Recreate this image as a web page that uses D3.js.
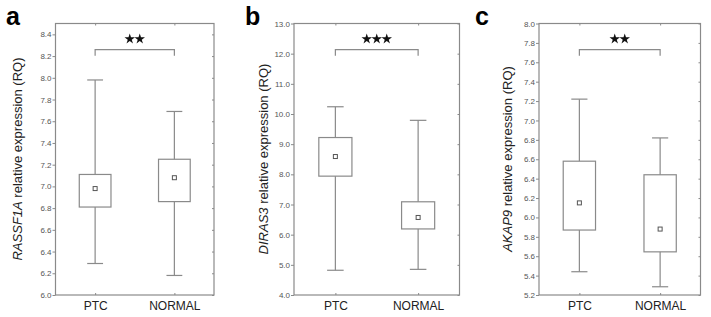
<!DOCTYPE html>
<html>
<head>
<meta charset="utf-8">
<script src="https://cdn.jsdelivr.net/npm/d3@7"></script>
<style>
  body { margin: 0; background: #fff; }
  text { font-family: "Liberation Sans", Arial, sans-serif; }
</style>
</head>
<body>
<div id="chart"></div>
<script>
// Groups on the x axis
const groups = ['PTC', 'NORMAL'];

// Box stats: low whisker, q1, mean, q3, high whisker
const rassf1aStats = [
    { group: 'PTC', low: 6.29, q1: 6.81, mean: 6.98, q3: 7.11, high: 7.98 },
    { group: 'NORMAL', low: 6.18, q1: 6.86, mean: 7.08, q3: 7.25, high: 7.69 }
];
const diras3Stats = [
    { group: 'PTC', low: 4.82, q1: 7.94, mean: 8.59, q3: 9.22, high: 10.24 },
    { group: 'NORMAL', low: 4.85, q1: 6.19, mean: 6.57, q3: 7.09, high: 9.79 }
];
const akap9Stats = [
    { group: 'PTC', low: 5.44, q1: 5.87, mean: 6.15, q3: 6.58, high: 7.22 },
    { group: 'NORMAL', low: 5.285, q1: 5.645, mean: 5.88, q3: 6.44, high: 6.82 }
];

// Y axis ranges and tick labels
const rassf1aDomain = [6.0, 8.5];
const diras3Domain = [4.0, 13.0];
const akap9Domain = [5.2, 8.0];
const rassf1aTicks = [6.0, 6.2, 6.4, 6.6, 6.8, 7.0, 7.2, 7.4, 7.6, 7.8, 8.0, 8.2, 8.4];
const diras3Ticks = [4.0, 5.0, 6.0, 7.0, 8.0, 9.0, 10.0, 11.0, 12.0, 13.0];
const akap9Ticks = [5.2, 5.4, 5.6, 5.8, 6.0, 6.2, 6.4, 6.6, 6.8, 7.0, 7.2, 7.4, 7.6, 7.8, 8.0];

// Significance stars per panel
const stars = [2, 3, 2];

const svg = d3.select('#chart')
    .append('svg')
    .attr('width', 711)
    .attr('height', 317);

const plotTop = 23.5, plotBottom = 295;
const grey = '#8a8a8a';

const panels = [
    { letter: 'a', gene: 'RASSF1A', stats: rassf1aStats, domain: rassf1aDomain, ticks: rassf1aTicks,
      left: 55.5, right: 214, titleX: 22, letterX: 6, stars: stars[0] },
    { letter: 'b', gene: 'DIRAS3', stats: diras3Stats, domain: diras3Domain, ticks: diras3Ticks,
      left: 294, right: 459.5, titleX: 268, letterX: 245, stars: stars[1] },
    { letter: 'c', gene: 'AKAP9', stats: akap9Stats, domain: akap9Domain, ticks: akap9Ticks,
      left: 539, right: 700.5, titleX: 512, letterX: 475, stars: stars[2] }
];

panels.forEach(p => {
    const g = svg.append('g');

    const y = d3.scaleLinear().domain(p.domain).range([plotBottom, plotTop]);
    const x = d3.scalePoint().domain(groups).range([p.left, p.right]).padding(0.5);
    const w = p.right - p.left;
    const boxW = w * 0.2;
    const capW = boxW / 2;

    // Frame
    g.append('rect')
        .attr('x', p.left).attr('y', plotTop)
        .attr('width', w).attr('height', plotBottom - plotTop)
        .attr('fill', 'none')
        .attr('stroke', grey)
        .attr('stroke-width', 1.2);

    // Left axis with labels
    const yAxis = g.append('g')
        .attr('transform', `translate(${p.left},0)`)
        .call(d3.axisLeft(y).tickValues(p.ticks).tickSize(3).tickPadding(1).tickFormat(d3.format('.1f')));
    yAxis.select('.domain').remove();
    yAxis.selectAll('line').attr('stroke', grey);
    yAxis.selectAll('text')
        .style('font-size', '8px')
        .attr('fill', '#555');

    // Right ticks (inside)
    const rAxis = g.append('g')
        .attr('transform', `translate(${p.right},0)`)
        .call(d3.axisLeft(y).tickValues(p.ticks).tickSize(2).tickFormat(''));
    rAxis.select('.domain').remove();
    rAxis.selectAll('line').attr('stroke', grey);

    // Top ticks (inside)
    const tAxis = g.append('g')
        .attr('transform', `translate(0,${plotTop})`)
        .call(d3.axisBottom(x).tickSize(2).tickFormat(''));
    tAxis.select('.domain').remove();
    tAxis.selectAll('line').attr('stroke', grey);

    // Bottom axis with group labels
    const xAxis = g.append('g')
        .attr('transform', `translate(0,${plotBottom})`)
        .call(d3.axisBottom(x).tickSizeInner(-2).tickSizeOuter(0).tickPadding(6));
    xAxis.select('.domain').remove();
    xAxis.selectAll('line').attr('stroke', grey);
    xAxis.selectAll('text')
        .style('font-size', '12px')
        .attr('fill', '#222');

    // Whiskers
    const box = g.selectAll('.box').data(p.stats).enter().append('g').attr('class', 'box');
    box.append('line')
        .attr('x1', d => x(d.group)).attr('x2', d => x(d.group))
        .attr('y1', d => y(d.low)).attr('y2', d => y(d.high))
        .attr('stroke', grey).attr('stroke-width', 1.2);
    ['low', 'high'].forEach(k => {
        box.append('line')
            .attr('x1', d => x(d.group) - capW / 2).attr('x2', d => x(d.group) + capW / 2)
            .attr('y1', d => y(d[k])).attr('y2', d => y(d[k]))
            .attr('stroke', grey).attr('stroke-width', 1.2);
    });

    // Boxes
    box.append('rect')
        .attr('x', d => x(d.group) - boxW / 2)
        .attr('y', d => y(d.q3))
        .attr('width', boxW)
        .attr('height', d => y(d.q1) - y(d.q3))
        .attr('fill', '#fff')
        .attr('stroke', grey).attr('stroke-width', 1.2);

    // Mean marker
    box.append('rect')
        .attr('x', d => x(d.group) - 2)
        .attr('y', d => y(d.mean) - 2)
        .attr('width', 4).attr('height', 4)
        .attr('fill', '#fff')
        .attr('stroke', '#555').attr('stroke-width', 1);

    // Significance bracket
    const bY = 49.7;
    const x1 = x(groups[0]), x2 = x(groups[1]);
    g.append('path')
        .attr('d', `M${x1},${bY + 6}V${bY}H${x2}V${bY + 6}`)
        .attr('fill', 'none')
        .attr('stroke', grey).attr('stroke-width', 1.2);

    const mid = (x1 + x2) / 2;
    const starGap = 10;
    g.selectAll('.star').data(d3.range(p.stars)).enter().append('path')
        .attr('class', 'star')
        .attr('d', d3.symbol(d3.symbolStar).size(34))
        .attr('transform', i => `translate(${mid + (i - (p.stars - 1) / 2) * starGap},39)`)
        .attr('fill', '#111');

    // Y axis title
    const title = g.append('text')
        .attr('transform', `translate(${p.titleX},159) rotate(-90)`)
        .attr('text-anchor', 'middle')
        .style('font-size', '13px')
        .attr('fill', '#222');
    title.append('tspan').style('font-style', 'italic').text(p.gene);
    title.append('tspan').text(' relative expression (RQ)');

    // Panel letter
    g.append('text')
        .attr('x', p.letterX)
        .attr('y', 25)
        .style('font-size', '25px')
        .style('font-weight', 'bold')
        .attr('fill', '#000')
        .text(p.letter);
});
</script>
</body>
</html>
